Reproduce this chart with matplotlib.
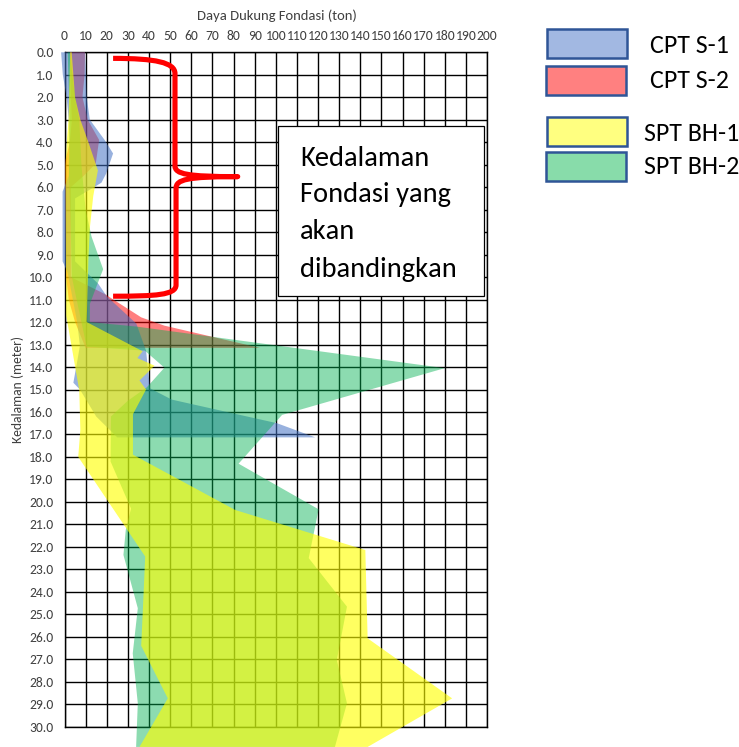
import matplotlib
matplotlib.use("Agg")
import matplotlib.pyplot as plt
from matplotlib.path import Path
from matplotlib.patches import PathPatch, Rectangle
from matplotlib import font_manager

# ---------------- data (ton vs depth in metres) ----------------
x_ticks = list(range(0, 201, 10))
y_ticks = list(range(0, 31))
y_tick_labels = [f"{v:.1f}" for v in y_ticks]

# CPT S-1 envelope
s1_hi_depth = [0.0, 1.0, 2.0, 3.0, 3.9, 4.5, 5.4, 5.8, 6.0, 6.5, 9.3, 10.3, 10.85, 12.07, 13.27, 14.95, 15.45, 16.5, 17.13]
s1_hi_ton   = [9.7, 10.2, 10.5, 12.0, 19.0, 23.0, 19.7, 17.5, 14.0, 5.0, 5.0, 16.0, 20.0, 34.0, 38.6, 40.5, 50.8, 100.6, 118.7]
s1_lo_depth = [0.0, 1.0, 2.0, 3.0, 4.5, 5.5, 6.2, 9.3, 9.8, 12.0, 13.05, 13.6, 14.7, 15.0, 16.2, 17.13]
s1_lo_ton   = [-1.6, -0.8, 1.0, 2.0, 2.5, 2.0, -0.9, -0.9, 1.5, 6.0, 7.3, 6.3, 4.2, 7.3, 15.0, 25.0]

# CPT S-2 envelope
s2_hi_depth = [0.0, 1.0, 2.0, 3.0, 3.9, 4.95, 5.5, 6.0, 10.0, 10.75, 11.79, 12.16, 13.15]
s2_hi_ton   = [9.7, 9.5, 8.5, 11.0, 16.4, 14.8, 9.0, 3.0, 3.0, 19.0, 36.3, 47.3, 92.6]
s2_lo_depth = [0.0, 2.0, 3.0, 4.0, 4.8, 6.0, 10.0, 11.0, 12.0, 13.15]
s2_lo_ton   = [2.5, 3.0, 3.5, 2.5, 0.5, 0.3, 0.8, 2.0, 5.0, 10.0]

# SPT BH-1 envelope
bh1_hi_depth = [0.0, 2.0, 3.0, 4.0, 5.25, 6.4, 7.8, 9.25, 12.0, 13.3, 13.6, 13.94, 14.6, 15.0, 16.1, 17.9, 20.36, 22.14, 26.07, 28.74, 30.9]
bh1_hi_ton   = [3.4, 5.0, 7.5, 11.3, 15.8, 13.6, 12.0, 11.3, 10.5, 37.0, 34.5, 42.6, 35.5, 38.6, 32.4, 32.4, 80.8, 142.4, 143.5, 183.5, 143.5]
bh1_lo_depth = [0.0, 3.0, 4.0, 5.0, 11.7, 15.05, 16.8, 18.0, 22.43, 25.0, 26.4, 28.74, 30.9]
bh1_lo_ton   = [2.7, 1.9, 1.1, 0.5, 0.8, 7.0, 7.5, 6.5, 38.2, 37.0, 36.3, 48.9, 35.5]

# SPT BH-2 envelope
bh2_hi_depth = [0.0, 2.0, 3.0, 5.0, 7.0, 8.2, 9.65, 10.4, 11.2, 12.0, 12.2, 14.05, 16.13, 18.3, 20.33, 22.5, 24.66, 27.03, 28.96, 30.9]
bh2_hi_ton   = [2.5, 5.0, 7.0, 8.0, 10.0, 12.8, 18.3, 15.2, 12.0, 12.0, 34.0, 180.0, 103.0, 82.4, 120.3, 115.6, 133.7, 128.9, 133.7, 128.0]
bh2_lo_depth = [0.0, 3.0, 5.0, 8.0, 10.0, 12.0, 13.1, 13.27, 14.03, 14.9, 15.5, 16.2, 18.2, 20.3, 21.25, 22.36, 24.73, 26.74, 28.96, 30.9]
bh2_lo_ton   = [1.5, 2.5, 2.0, 3.0, 3.5, 8.0, 10.5, 38.0, 47.3, 39.0, 30.0, 22.0, 21.8, 31.5, 29.0, 27.9, 34.7, 32.3, 34.7, 33.9]

legend_labels = ["CPT S-1", "CPT S-2", "SPT BH-1", "SPT BH-2"]
legend_colors = ["#A2B8E2", "#FF8080", "#FFFF80", "#88DCAA"]
note_lines = ["Kedalaman", "Fondasi yang", "akan", "dibandingkan"]

# ---------------- fonts ----------------
names = {f.name for f in font_manager.fontManager.ttflist}
FONT = "Carlito" if "Carlito" in names else "Lato"
SC = 1.0 if FONT == "Carlito" else 0.9
plt.rcParams["font.family"] = [FONT, "DejaVu Sans"]

W, H = 739, 747
fig = plt.figure(figsize=(W / 100, H / 100), dpi=100)

def fx(px):
    return px / W

def fy(py):
    return 1 - py / H

ax_l, ax_r, ax_t, ax_b = 64.5, 487.0, 52.3, 726.7
ax = fig.add_axes([fx(ax_l), fy(ax_b), (ax_r - ax_l) / W, (ax_b - ax_t) / H])

def envelope(hd, ht, ld, lt, color, alpha):
    xs = list(ht) + list(lt)[::-1]
    ys = list(hd) + list(ld)[::-1]
    ax.fill(xs, ys, color=color, alpha=alpha, lw=0, clip_on=False, zorder=1)

envelope(s2_hi_depth, s2_hi_ton, s2_lo_depth, s2_lo_ton, "#FF0000", 0.5)
envelope(s1_hi_depth, s1_hi_ton, s1_lo_depth, s1_lo_ton, "#4472C4", 0.55)
envelope(bh2_hi_depth, bh2_hi_ton, bh2_lo_depth, bh2_lo_ton, "#00B050", 0.45)
envelope(bh1_hi_depth, bh1_hi_ton, bh1_lo_depth, bh1_lo_ton, "#FFFF00", 0.62)

ax.set_xlim(0, 200)
ax.set_ylim(30, 0)
ax.set_xticks(x_ticks)
ax.set_xticklabels([str(v) for v in x_ticks])
ax.set_yticks(y_ticks)
ax.set_yticklabels(y_tick_labels)
ax.xaxis.tick_top()
ax.tick_params(axis="both", length=0, labelsize=9.8 * SC, colors="#404040")
ax.tick_params(axis="x", pad=7.5)
ax.tick_params(axis="y", pad=8)
ax.grid(True, color="black", lw=1.0)
ax.set_axisbelow(True)
for s in ax.spines.values():
    s.set_color("black")
    s.set_linewidth(1.0)
    s.set_zorder(0.6)

fig.text(fx(276.5), fy(16), "Daya Dukung Fondasi (ton)", ha="center", va="center",
         fontsize=10.5 * SC, color="#404040")
fig.text(fx(18), fy(389.5), "Kedalaman (meter)", ha="center", va="center",
         rotation=90, fontsize=9.8 * SC, color="#404040")

# red brace annotation
verts = [(23, 0.27), (43, 0.27), (52.3, 0.45), (52.3, 0.95),
         (52.3, 5.05),
         (52.3, 5.42), (58, 5.53), (82, 5.53),
         (58, 5.53), (52.8, 5.66), (52.8, 6.05),
         (52.8, 10.35),
         (52.8, 10.8), (43, 10.85), (23, 10.85)]
codes = [Path.MOVETO, Path.CURVE4, Path.CURVE4, Path.CURVE4,
         Path.LINETO,
         Path.CURVE4, Path.CURVE4, Path.CURVE4,
         Path.CURVE4, Path.CURVE4, Path.CURVE4,
         Path.LINETO,
         Path.CURVE4, Path.CURVE4, Path.CURVE4]
ax.add_patch(PathPatch(Path(verts, codes), fill=False, ec="#FF0000", lw=3.7,
                       capstyle="butt", joinstyle="round", zorder=3, clip_on=False))

# note box
fig.patches.append(Rectangle((fx(278), fy(296)), (484 - 278) / W, (296 - 126) / H,
                             transform=fig.transFigure, fc="white", ec="black", lw=0.9, zorder=5))
for line, base in zip(note_lines, [166, 201.7, 239, 277]):
    fig.text(fx(300), fy(base), line, ha="left", va="baseline", fontsize=20.5 * SC,
             color="black", zorder=6)

# legend
boxes = [(546.5, 29.3), (545.7, 66.0), (546.5, 116.7), (545.7, 152.3)]
text_pos = [(650, 53.3), (650, 88.3), (644, 140.7), (644, 174.0)]
for lab, col, (bx, by), (tx, ty) in zip(legend_labels, legend_colors, boxes, text_pos):
    fig.patches.append(Rectangle((fx(bx), fy(by + 29)), 80 / W, 29 / H,
                                 transform=fig.transFigure, fc=col, ec="#2F5597", lw=1.8, zorder=5))
    fig.text(fx(tx), fy(ty), lab, ha="left", va="baseline", fontsize=18.7 * SC,
             color="black", zorder=6)

fig.savefig("out.png", dpi=100)
